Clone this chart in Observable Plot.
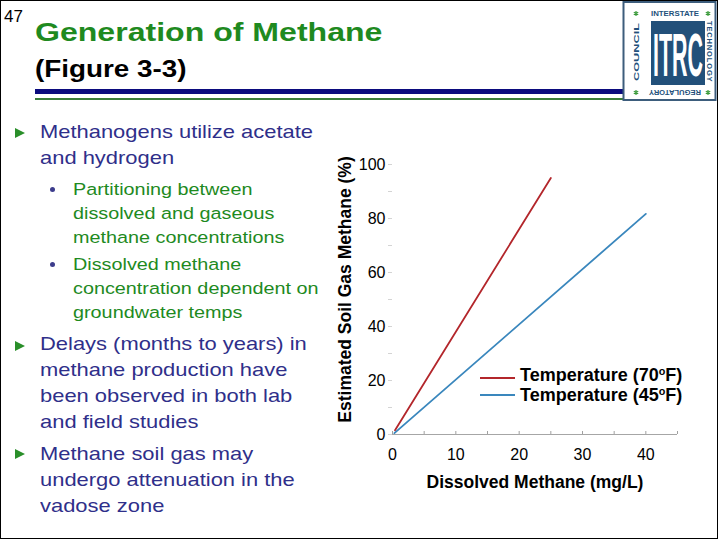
<!DOCTYPE html>
<html><head><meta charset="utf-8">
<script src="https://cdn.jsdelivr.net/npm/d3@7"></script>
<script src="https://cdn.jsdelivr.net/npm/@observablehq/plot@0.6"></script>
<style>
body{margin:0;background:#fff;}
#slide{position:relative;width:720px;height:540px;overflow:hidden;font-family:"Liberation Sans",Arial,Helvetica,sans-serif;background:#fff;}
.abs{position:absolute;white-space:nowrap;}
.frame{left:0;top:0;width:718px;height:539px;border:1.5px solid #000;box-sizing:border-box;}
.title{left:35px;top:19.3px;font-size:26.5px;line-height:1;font-weight:bold;color:#1f8a1f;transform:scaleX(1.21);transform-origin:0 0;}
.fig{left:35px;top:57.8px;font-size:23px;line-height:1;font-weight:bold;color:#000;transform:scaleX(1.21);transform-origin:0 0;}
.num{left:4px;top:8.3px;font-size:17px;line-height:1;color:#000;}
.main{left:40px;font-size:18.5px;line-height:26px;color:#2f2f8a;transform:scaleX(1.185);transform-origin:0 0;}
.sub{left:72.7px;font-size:16.3px;line-height:24px;color:#1e8a1e;transform:scaleX(1.216);transform-origin:0 0;}
.tri{left:15px;width:0;height:0;border-left:10px solid #2a8f2a;border-top:5px solid transparent;border-bottom:5px solid transparent;}
.dot{left:50px;width:5px;height:5px;border-radius:50%;background:#3c3c8c;}
.leg{left:520px;font-size:18px;line-height:1;font-weight:bold;color:#000;}
.leg sup{font-size:0.6em;vertical-align:0.55em;line-height:0;}
.sw{left:480px;width:35px;height:2px;}
.tech{left:705px;top:21px;font-size:7.5px;line-height:8px;font-weight:bold;color:#22507a;writing-mode:vertical-rl;letter-spacing:0.85px;}
</style></head><body>
<div id="slide">
  <div class="abs num">47</div>
  <div class="abs title">Generation of Methane</div>
  <div class="abs fig">(Figure 3-3)</div>
  <div class="abs" style="left:35px;top:89px;width:590px;height:5px;background:#0b0b7e;"></div>
  <div class="abs" style="left:35px;top:98px;width:590px;height:2px;background:#3a7d3a;"></div>
  <svg class="abs" style="left:620px;top:0px;" width="98" height="104">
    <rect x="3.5" y="2" width="92" height="98" fill="#fff" stroke="#3d5d7c" stroke-width="2"/>
    <rect x="31" y="21" width="54" height="64" fill="#22507a"/>
    <text x="33" y="75.5" fill="#fff" font-weight="bold" font-size="62" textLength="50" lengthAdjust="spacingAndGlyphs" font-family="Liberation Sans, Arial, sans-serif">ITRC</text>
    <g fill="#22507a" font-weight="bold" font-size="7.5" font-family="Liberation Sans, Arial, sans-serif" text-anchor="middle">
      <text x="55" y="16" textLength="48" lengthAdjust="spacingAndGlyphs">INTERSTATE</text>
      <text transform="translate(16,52) rotate(-90)" dy="0.35em" textLength="58" lengthAdjust="spacingAndGlyphs">COUNCIL</text>
      <text transform="translate(55,93) rotate(180)" dy="0.35em" textLength="52" lengthAdjust="spacingAndGlyphs">REGULATORY</text>
    </g>
    <g stroke="#3a9a3a" stroke-width="1.2">
      <path d="M16,11v5M13.8,12.2l4.4,2.6M13.8,14.8l4.4,-2.6"/>
      <path d="M88,11v5M85.8,12.2l4.4,2.6M85.8,14.8l4.4,-2.6"/>
      <path d="M16,90v5M13.8,91.2l4.4,2.6M13.8,93.8l4.4,-2.6"/>
      <path d="M88,90v5M85.8,91.2l4.4,2.6M85.8,93.8l4.4,-2.6"/>
    </g>
  </svg>
  <div class="abs tech">TECHNOLOGY</div>

  <div class="abs tri" style="top:128px;"></div>
  <div class="abs main" style="top:118.6px;">Methanogens utilize acetate<br>and hydrogen</div>
  <div class="abs dot" style="top:186.5px;"></div>
  <div class="abs sub" style="top:177.4px;">Partitioning between<br>dissolved and gaseous<br>methane concentrations</div>
  <div class="abs dot" style="top:261.5px;"></div>
  <div class="abs sub" style="top:252.4px;">Dissolved methane<br>concentration dependent on<br>groundwater temps</div>
  <div class="abs tri" style="top:341px;"></div>
  <div class="abs main" style="top:331.3px;">Delays (months to years) in<br>methane production have<br>been observed in both lab<br>and field studies</div>
  <div class="abs tri" style="top:449px;"></div>
  <div class="abs main" style="top:441.3px;">Methane soil gas may<br>undergo attenuation in the<br>vadose zone</div>

  <div id="chart" class="abs" style="left:330px;top:120px;"></div>

  <div class="abs sw" style="top:376.7px;background:#b3262b;"></div>
  <div class="abs sw" style="top:394px;background:#3a87bd;"></div>
  <div class="abs leg" id="leg1" style="top:365.8px;"></div>
  <div class="abs leg" id="leg2" style="top:385.5px;"></div>

  <div class="abs frame"></div>
</div>
<script>
// ---- data ----
const seriesNames = ["Temperature (70oF)", "Temperature (45oF)"];
const seriesTemps = ["70", "45"];
const seriesColors = ["#b3262b", "#3a87bd"];
const dissolved70 = [0.4, 25];
const soilGas70 = [1.6, 95];
const dissolved45 = [0.3, 40];
const soilGas45 = [0.5, 81.7];
const xTickLabels = [0, 10, 20, 30, 40];
const xTickMarks = [0, 5, 10, 15, 20, 25, 30, 35, 40, 45];
const yTickLabels = [0, 20, 40, 60, 80, 100];
const yTickMarks = [0, 10, 20, 30, 40, 50, 60, 70, 80, 90, 100];
const xLabel = "Dissolved Methane (mg/L)";
const yLabel = "Estimated Soil Gas Methane (%)";

const rows = [
  ...dissolved70.map((x, i) => ({series: seriesTemps[0], x, y: soilGas70[i]})),
  ...dissolved45.map((x, i) => ({series: seriesTemps[1], x, y: soilGas45[i]}))
];

const fontFamily = '"Liberation Sans", Arial, Helvetica, sans-serif';
const chart = Plot.plot({
  width: 390,
  height: 380,
  marginLeft: 62,
  marginRight: 43,
  marginTop: 44,
  marginBottom: 66,
  style: {fontFamily, fontSize: "16px", color: "#000", background: "transparent", overflow: "visible"},
  x: {domain: [0, 45]},
  y: {domain: [0, 100]},
  color: {domain: seriesTemps, range: seriesColors},
  marks: [
    Plot.axisY({ticks: yTickMarks, tickSize: 4, stroke: "#d4d4d4", tickFormat: () => "", label: null}),
    Plot.axisY({ticks: yTickLabels, tickSize: 0, tickPadding: 7, label: null, fill: "#000"}),
    Plot.ruleY([0], {stroke: "#a6a6a6", strokeWidth: 1.2}),
    Plot.axisX({ticks: xTickMarks, tickSize: -3, stroke: "#a0a0a0", tickFormat: () => "", label: null}),
    Plot.axisX({ticks: xTickLabels, tickSize: 0, tickPadding: 14, label: null, fill: "#000"}),
    Plot.line(rows, {x: "x", y: "y", z: "series", stroke: "series", strokeWidth: 1.8}),
    Plot.text([xLabel], {text: d => d, frameAnchor: "bottom", textAnchor: "middle", lineAnchor: "middle", dy: 48, fontWeight: "bold", fontSize: 17.5, fill: "#000"}),
    Plot.text([yLabel], {text: d => d, frameAnchor: "left", textAnchor: "middle", lineAnchor: "middle", rotate: -90, dx: -47, dy: -10, fontWeight: "bold", fontSize: 17.5, fill: "#000"})
  ]
});
document.getElementById("chart").appendChild(chart);

function legendHTML(name) {
  const m = name.match(/^(.*\(\d+)o(F\))$/);
  return m ? `${m[1]}<sup>o</sup>${m[2]}` : name;
}
document.getElementById("leg1").innerHTML = legendHTML(seriesNames[0]);
document.getElementById("leg2").innerHTML = legendHTML(seriesNames[1]);
</script>
</body></html>
